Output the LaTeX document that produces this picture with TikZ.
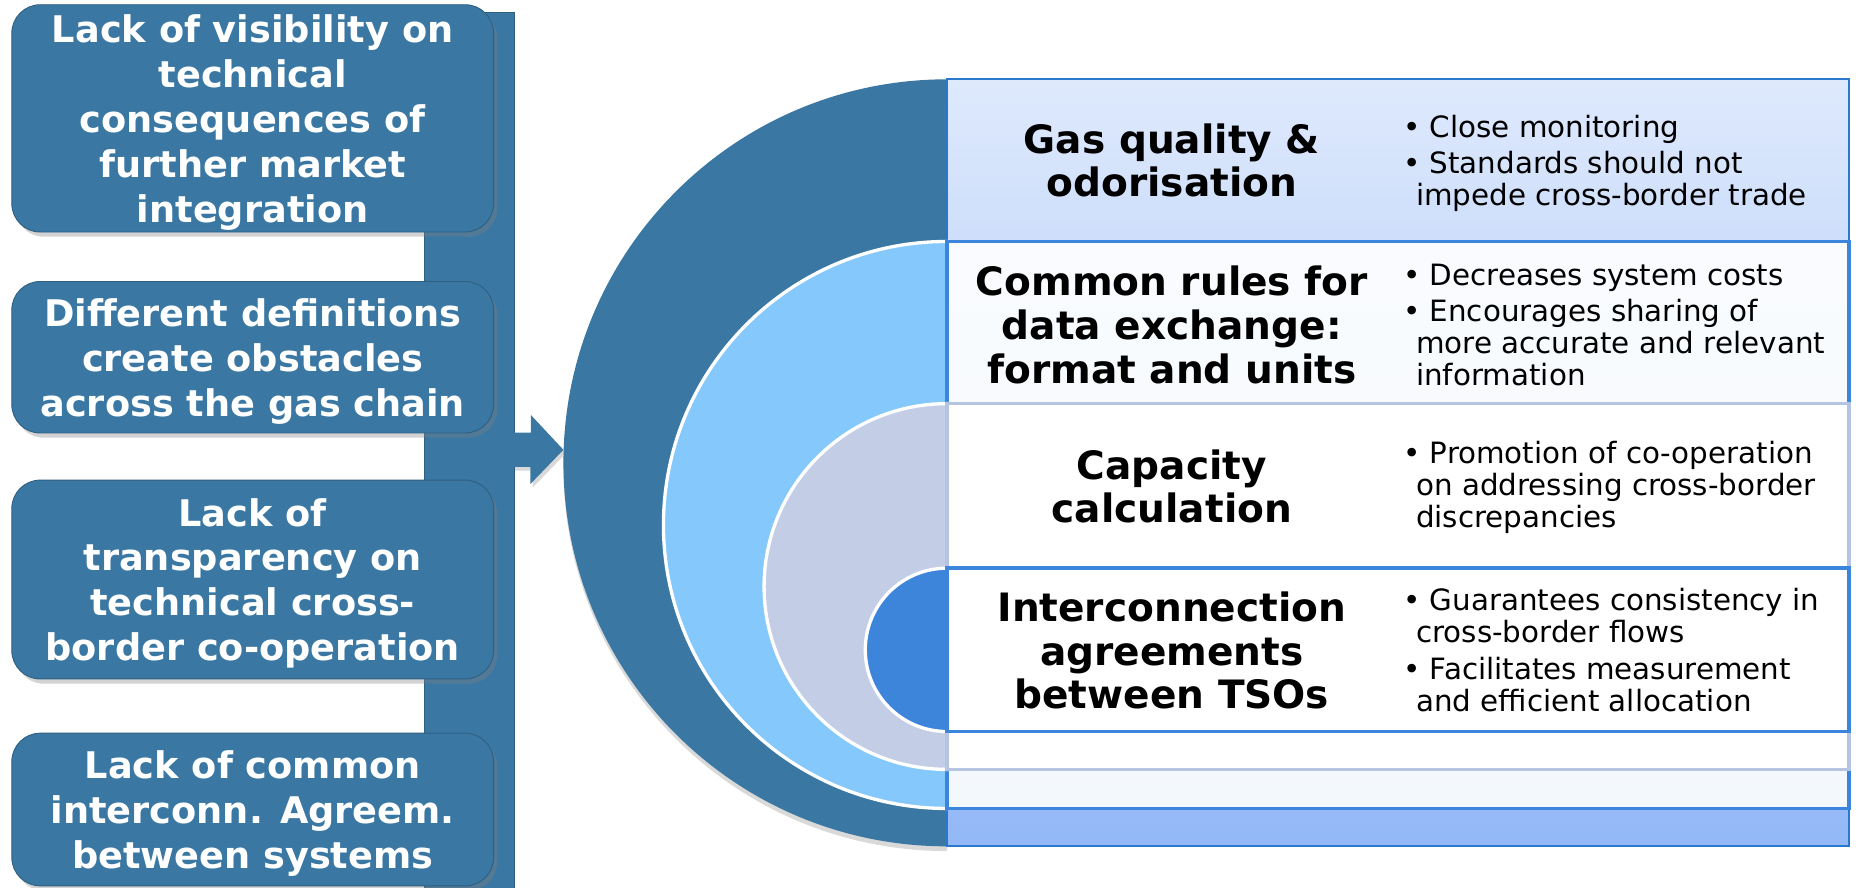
\documentclass[tikz,border=0pt]{standalone}
\usepackage{fontspec}
\setmainfont{DejaVu Sans}
\usetikzlibrary{positioning,shadows,calc}
\definecolor{boxblue}{HTML}{3A78A3}
\definecolor{ringlight}{HTML}{84C8FC}
\definecolor{ringgray}{HTML}{C3CEE6}
\definecolor{ringcore}{HTML}{3D84DB}
\definecolor{rowtop}{HTML}{DEE9FC}
\definecolor{rowbottom}{HTML}{93B8F7}
\definecolor{rowblue}{HTML}{3C85DC}
\definecolor{rowgray}{HTML}{B4C4E1}
\definecolor{rowline}{HTML}{2A78CE}

\begin{document}
\begin{tikzpicture}[x=0.5pt, y=-0.5pt,
    lackbox/.style={rectangle, rounded corners=12pt, fill=boxblue, draw=boxblue!80!black, line width=0.4pt,
        text=white, align=center, inner sep=0pt, minimum width=203.5pt, text depth=0pt,
        font=\fontsize{15.5pt}{19pt}\selectfont\bfseries,
        drop shadow={opacity=0.35, shadow xshift=1.5pt, shadow yshift=-2pt}},
    spine/.style={rectangle, fill=boxblue, draw=boxblue!80!black, line width=0.4pt, inner sep=0pt, minimum width=38pt},
    layer/.style={line width=1.5pt},
    ring/.style={draw=white, line width=1.4pt},
    rowtitle/.style={align=center, inner sep=0pt, font=\fontsize{16.5pt}{18.5pt}\selectfont\bfseries},
    rowpoints/.style={align=left, anchor=west, inner sep=0pt, font=\fontsize{12.4pt}{13.5pt}\selectfont}]

    \useasboundingbox (0,0) rectangle (1568,750);

    % bracket and arrow
    \node[spine, anchor=north, minimum height=372.5pt] (spine) at (397,10) {};
    \coordinate (tip) at (476,380);
    \fill[boxblue, drop shadow={opacity=0.3, shadow xshift=1pt, shadow yshift=-1.5pt}]
        ($(spine.east |- tip)+(-2,-14.5)$) -- ++(15,0) -- ++(0,-15) -- (tip) -- ++(-28,29) -- ++(0,-14.5) -- ++(-15,0) -- cycle;

    % issues
    \node[lackbox, minimum height=96pt] (lack1) at (213.5,100) {Lack of visibility on\\technical\\consequences of\\further market\\integration};
    \node[lackbox, minimum height=64pt, below=20.5pt of lack1] (lack2) {Different definitions\\create obstacles\\across the gas chain};
    \node[lackbox, minimum height=84pt, below=19.5pt of lack2] (lack3) {Lack of\\transparency on\\technical cross-\\border co-operation};
    \node[lackbox, minimum height=64.5pt, below=22.5pt of lack3] (lack4) {Lack of common\\interconn. Agreem.\\between systems};

    % nested rings and rows
    \fill[boxblue, drop shadow={opacity=0.3, shadow xshift=0pt, shadow yshift=-2pt}] (800,67) arc[start angle=270, end angle=90, radius=324] -- cycle;
    \draw[top color=rowtop, bottom color=rowbottom, draw=rowline, line width=0.8pt] (800,67) rectangle (1562,715);
    \filldraw[ring, fill=ringlight] (800,204) arc[start angle=270, end angle=90, radius=239.5] -- cycle;
    \draw[layer, top color=white!97!rowblue, bottom color=white!94!rowblue, draw=rowblue] (800,204) rectangle (1562,683);
    \filldraw[ring, fill=ringgray] (800,341) arc[start angle=270, end angle=90, radius=154.5] -- cycle;
    \draw[layer, fill=white, draw=rowgray] (800,341) rectangle (1562,650);
    \filldraw[ring, fill=ringcore] (800,480) arc[start angle=270, end angle=90, radius=69] -- cycle;
    \draw[layer, fill=white, draw=rowblue] (800,480) rectangle (1562,618);

    \node[rowtitle] (quality) at (990,135.5) {Gas quality \&\\odorisation};
    \node[rowpoints] (qualitypts) at (1185,138) {• Close monitoring\\[2pt]• Standards should not\\\hspace*{5.5pt}impede cross-border trade};

    \node[rowtitle] (rules) at (990,274.5) {Common rules for\\data exchange:\\format and units};
    \node[rowpoints] (rulespts) at (1185,274.5) {• Decreases system costs\\[2pt]• Encourages sharing of\\\hspace*{5.5pt}more accurate and relevant\\\hspace*{5.5pt}information};

    \node[rowtitle] (capacity) at (990,411) {Capacity\\calculation};
    \node[rowpoints] (capacitypts) at (1185,412) {• Promotion of co-operation\\\hspace*{5.5pt}on addressing cross-border\\\hspace*{5.5pt}discrepancies};

    \node[rowtitle] (agree) at (990,549.5) {Interconnection\\agreements\\between TSOs};
    \node[rowpoints] (agreepts) at (1185,549) {• Guarantees consistency in\\\hspace*{5.5pt}cross-border flows\\[2pt]• Facilitates measurement\\\hspace*{5.5pt}and efficient allocation};

\end{tikzpicture}
\end{document}
